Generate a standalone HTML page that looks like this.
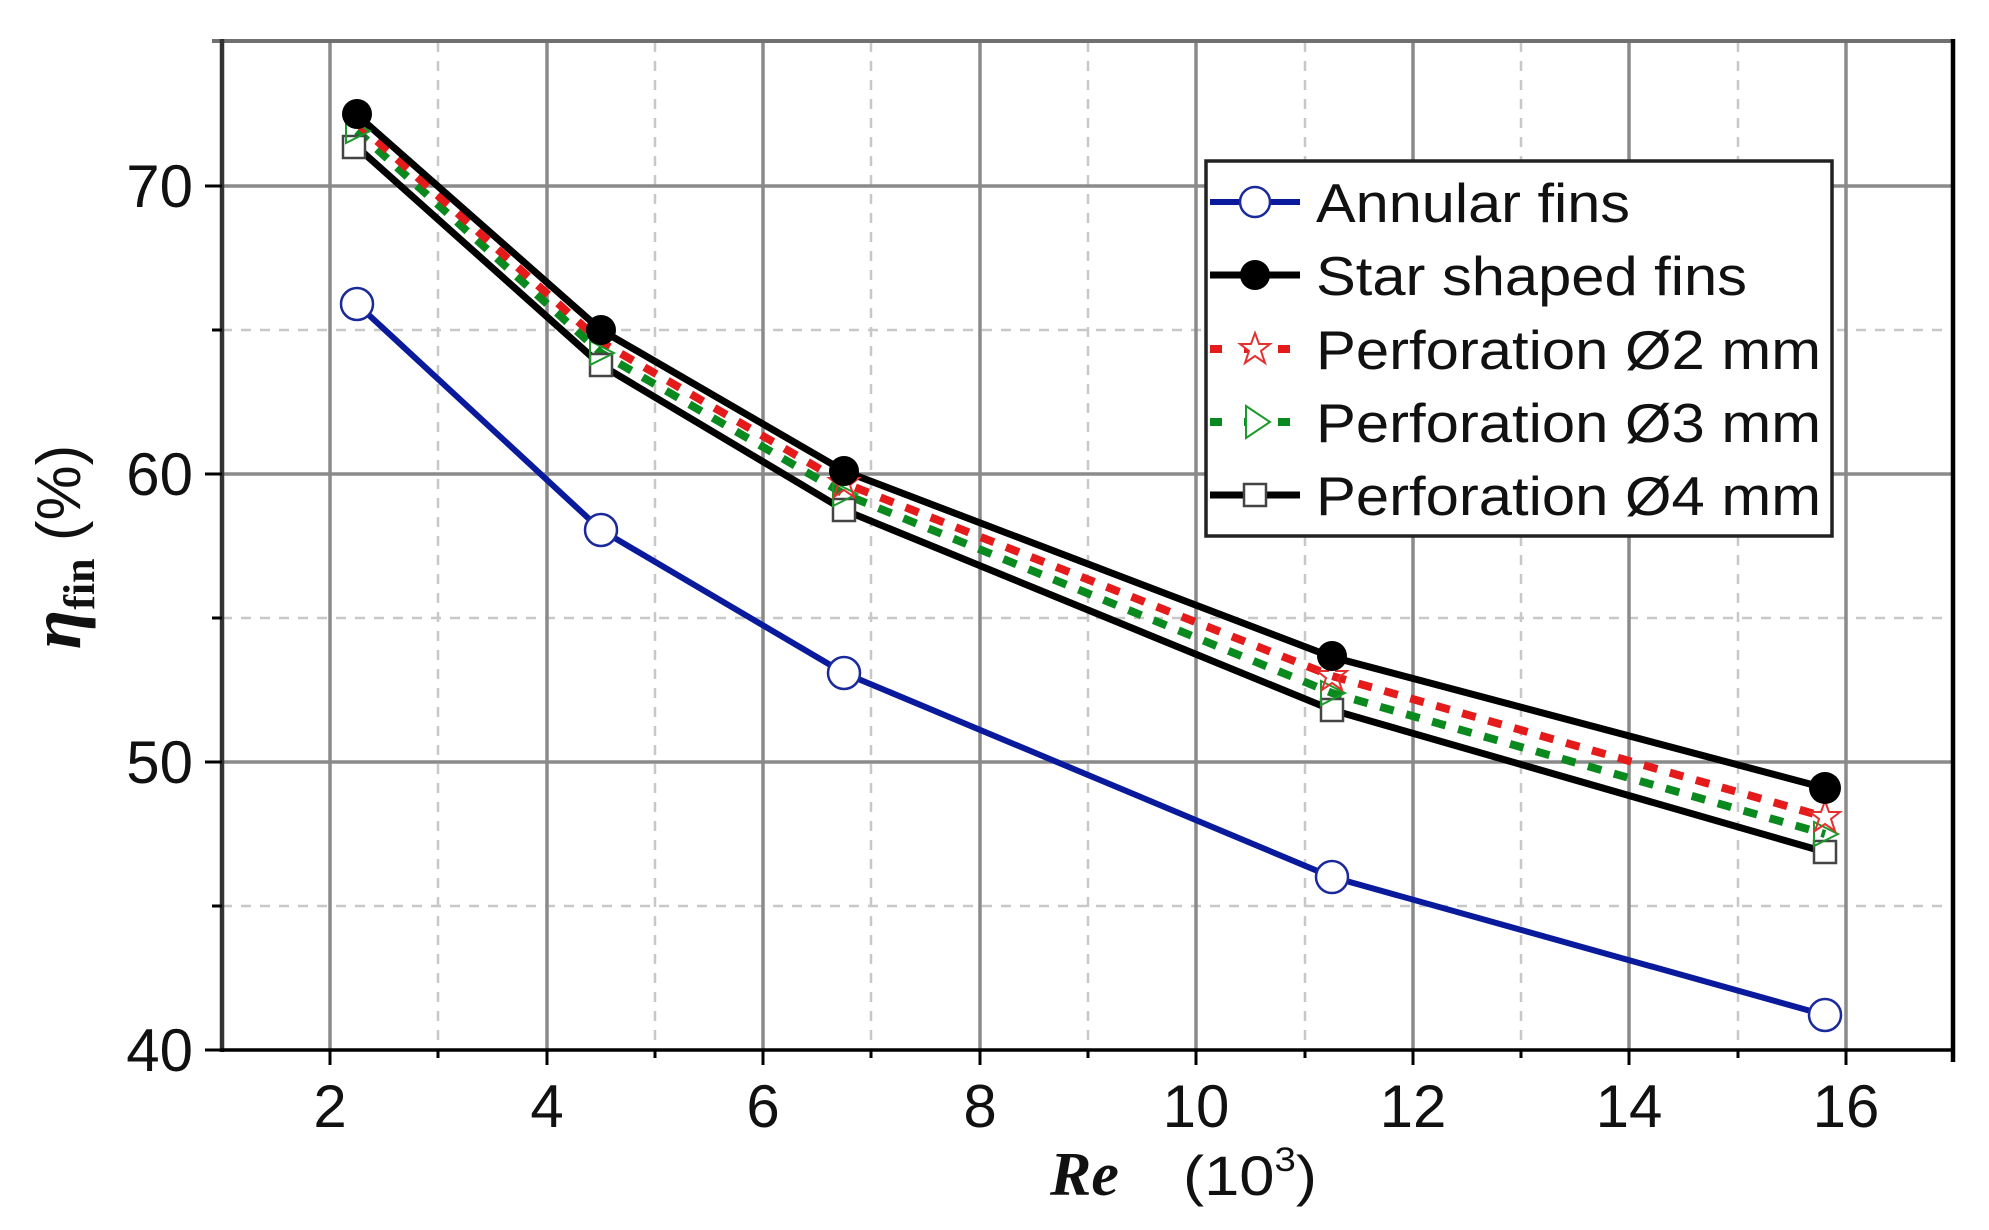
<!DOCTYPE html>
<html><head><meta charset="utf-8"><style>html,body{margin:0;padding:0;background:#fff;}svg{display:block}</style></head>
<body>
<svg width="1989" height="1230" viewBox="0 0 1989 1230" xmlns="http://www.w3.org/2000/svg">
<rect width="1989" height="1230" fill="#fff"/>
<g stroke="#c8c8c8" stroke-width="2.5" stroke-dasharray="10,9" fill="none">
<line x1="438" y1="42" x2="438" y2="1050"/><line x1="655" y1="42" x2="655" y2="1050"/><line x1="871" y1="42" x2="871" y2="1050"/><line x1="1088" y1="42" x2="1088" y2="1050"/><line x1="1305" y1="42" x2="1305" y2="1050"/><line x1="1521" y1="42" x2="1521" y2="1050"/><line x1="1738" y1="42" x2="1738" y2="1050"/>
<line x1="222" y1="330" x2="1953" y2="330"/><line x1="222" y1="618" x2="1953" y2="618"/><line x1="222" y1="906" x2="1953" y2="906"/>
</g>
<g stroke="#8a8a8a" stroke-width="3.5" fill="none">
<line x1="330" y1="42" x2="330" y2="1050"/><line x1="547" y1="42" x2="547" y2="1050"/><line x1="763" y1="42" x2="763" y2="1050"/><line x1="980" y1="42" x2="980" y2="1050"/><line x1="1196" y1="42" x2="1196" y2="1050"/><line x1="1413" y1="42" x2="1413" y2="1050"/><line x1="1629" y1="42" x2="1629" y2="1050"/><line x1="1846" y1="42" x2="1846" y2="1050"/>
<line x1="222" y1="186" x2="1953" y2="186"/><line x1="222" y1="474" x2="1953" y2="474"/><line x1="222" y1="762" x2="1953" y2="762"/>
</g>
<line x1="212" y1="41" x2="1955" y2="41" stroke="#707070" stroke-width="4"/>
<line x1="1953" y1="39" x2="1953" y2="1062" stroke="#000" stroke-width="4.5"/>
<line x1="222" y1="39" x2="222" y2="1052" stroke="#333" stroke-width="4.5"/>
<line x1="220" y1="1050" x2="1955" y2="1050" stroke="#000" stroke-width="3.5"/>
<g stroke="#000" stroke-width="3">
<line x1="205" y1="186" x2="222" y2="186"/><line x1="205" y1="474" x2="222" y2="474"/><line x1="205" y1="762" x2="222" y2="762"/><line x1="205" y1="1050" x2="222" y2="1050"/>
<line x1="212" y1="330" x2="222" y2="330"/><line x1="212" y1="618" x2="222" y2="618"/><line x1="212" y1="906" x2="222" y2="906"/>
<line x1="330" y1="1050" x2="330" y2="1065"/><line x1="547" y1="1050" x2="547" y2="1065"/><line x1="763" y1="1050" x2="763" y2="1065"/><line x1="980" y1="1050" x2="980" y2="1065"/><line x1="1196" y1="1050" x2="1196" y2="1065"/><line x1="1413" y1="1050" x2="1413" y2="1065"/><line x1="1629" y1="1050" x2="1629" y2="1065"/><line x1="1846" y1="1050" x2="1846" y2="1065"/>
<line x1="438" y1="1050" x2="438" y2="1058"/><line x1="655" y1="1050" x2="655" y2="1058"/><line x1="871" y1="1050" x2="871" y2="1058"/><line x1="1088" y1="1050" x2="1088" y2="1058"/><line x1="1305" y1="1050" x2="1305" y2="1058"/><line x1="1521" y1="1050" x2="1521" y2="1058"/><line x1="1738" y1="1050" x2="1738" y2="1058"/>
</g>
<g font-family="Liberation Sans, sans-serif" font-size="60" fill="#111">
<g text-anchor="end"><text x="193" y="207">70</text><text x="193" y="495">60</text><text x="193" y="783">50</text><text x="193" y="1071">40</text></g>
<g text-anchor="middle"><text x="330" y="1127">2</text><text x="547" y="1127">4</text><text x="763" y="1127">6</text><text x="980" y="1127">8</text><text x="1196" y="1127">10</text><text x="1413" y="1127">12</text><text x="1629" y="1127">14</text><text x="1846" y="1127">16</text></g>
</g>
<text x="1050" y="1195" font-family="Liberation Serif, serif" font-style="italic" font-weight="bold" font-size="62" fill="#111">Re</text>
<text x="1183" y="1195" font-family="Liberation Sans, sans-serif" font-size="56" fill="#111" textLength="134" lengthAdjust="spacingAndGlyphs">(10<tspan font-size="34" dy="-24">3</tspan><tspan dy="24">)</tspan></text>
<g transform="translate(80,547) rotate(-90)">
<text x="0" y="0" text-anchor="middle" fill="#111" font-size="62"><tspan font-family="Liberation Serif, serif" font-style="italic" font-weight="bold" font-size="72">η</tspan><tspan font-family="Liberation Serif, serif" font-weight="bold" font-size="44" dy="14">fin</tspan><tspan font-family="Liberation Sans, sans-serif" dy="-14"> (%)</tspan></text>
</g>
<polyline points="357,304 601,530 844,673 1332,877 1825,1015" fill="none" stroke="#0a1a9c" stroke-width="6"/>
<polyline points="357,147 601,365 844,510 1332,710 1825,852" fill="none" stroke="#000" stroke-width="7"/>
<polyline points="357,131 601,353 844,494 1332,693 1825,834" fill="none" stroke="#0a8a1e" stroke-width="8" stroke-dasharray="14,13"/>
<polyline points="357,123 601,342 844,483 1332,676 1825,817" fill="none" stroke="#e51a1a" stroke-width="8" stroke-dasharray="14,13"/>
<polyline points="357,115 601,330 844,471 1332,657 1825,788" fill="none" stroke="#000" stroke-width="7"/>
<g fill="#fff" stroke="#1a2a9c" stroke-width="2.5">
<circle cx="357" cy="304" r="16"/><circle cx="601" cy="530" r="16"/><circle cx="844" cy="673" r="16"/><circle cx="1332" cy="877" r="16"/><circle cx="1825" cy="1015" r="16"/>
</g>
<g fill="#fff" stroke="#444" stroke-width="2.5">
<rect x="343" y="136" width="22" height="22"/><rect x="590" y="354" width="22" height="22"/><rect x="833" y="499" width="22" height="22"/><rect x="1321" y="699" width="22" height="22"/><rect x="1814" y="841" width="22" height="22"/>
</g>
<g fill="none" stroke="#1a9a2a" stroke-width="2">
<polygon points="346,119 370,131 346,143"/><polygon points="590,341 614,353 590,365"/><polygon points="833,482 857,494 833,506"/><polygon points="1321,681 1345,693 1321,705"/><polygon points="1814,822 1838,834 1814,846"/>
</g>
<g fill="none" stroke="#e53030" stroke-width="2">
<polygon transform="translate(1825,817)" points="0,-16 4,-5 15,-5 6,2 10,14 0,7 -10,14 -6,2 -15,-5 -4,-5"/>
<polygon transform="translate(1332,676)" points="0,-16 4,-5 15,-5 6,2 10,14 0,7 -10,14 -6,2 -15,-5 -4,-5"/>
<polygon transform="translate(844,483)" points="0,-16 4,-5 15,-5 6,2 10,14 0,7 -10,14 -6,2 -15,-5 -4,-5"/>
</g>
<g fill="#000">
<circle cx="357" cy="114" r="15"/><circle cx="601" cy="330" r="15"/><circle cx="844" cy="471" r="15"/><circle cx="1332" cy="656" r="15"/><circle cx="1825" cy="788" r="16"/>
</g>
<rect x="1206" y="161" width="626" height="375" fill="#fff" stroke="#222" stroke-width="3.5"/>
<line x1="1210" y1="202" x2="1300" y2="202" stroke="#0a1a9c" stroke-width="6"/>
<circle cx="1255" cy="202" r="15" fill="#fff" stroke="#1a2a9c" stroke-width="2.5"/>
<line x1="1210" y1="275" x2="1300" y2="275" stroke="#000" stroke-width="7"/>
<circle cx="1255" cy="275" r="15" fill="#000"/>
<line x1="1210" y1="349" x2="1300" y2="349" stroke="#e51a1a" stroke-width="8" stroke-dasharray="12,22"/>
<polygon points="1255,333 1259,344 1270,344 1261,351 1265,363 1255,356 1245,363 1249,351 1240,344 1251,344" fill="#fff" stroke="#e53030" stroke-width="2"/>
<line x1="1210" y1="422" x2="1300" y2="422" stroke="#0a8a1e" stroke-width="8" stroke-dasharray="12,22"/>
<polygon points="1246,406 1270,422 1246,438" fill="#fff" stroke="#1a9a2a" stroke-width="2"/>
<line x1="1210" y1="495" x2="1300" y2="495" stroke="#000" stroke-width="7"/>
<rect x="1244" y="484" width="22" height="22" fill="#fff" stroke="#444" stroke-width="2.5"/>
<g font-family="Liberation Sans, sans-serif" font-size="55" fill="#111">
<text x="1316" y="222" textLength="314" lengthAdjust="spacingAndGlyphs">Annular fins</text>
<text x="1316" y="295" textLength="431" lengthAdjust="spacingAndGlyphs">Star shaped fins</text>
<text x="1316" y="369" textLength="505" lengthAdjust="spacingAndGlyphs">Perforation Ø2 mm</text>
<text x="1316" y="442" textLength="505" lengthAdjust="spacingAndGlyphs">Perforation Ø3 mm</text>
<text x="1316" y="515" textLength="505" lengthAdjust="spacingAndGlyphs">Perforation Ø4 mm</text>
</g>
</svg>
</body></html>
